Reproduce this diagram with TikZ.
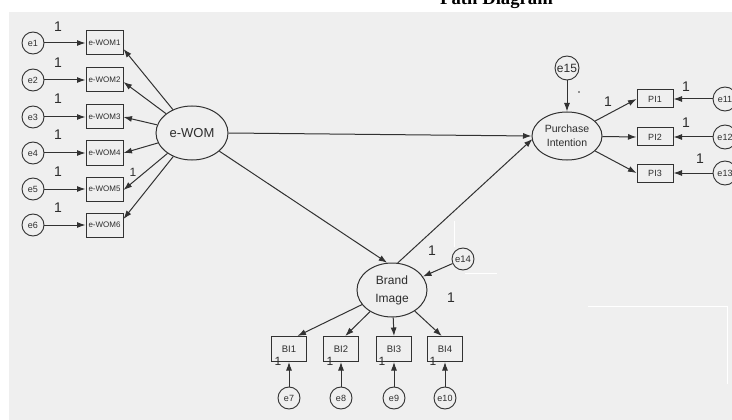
\documentclass[tikz,border=0pt]{standalone}
\usepackage{fontspec}
\setmainfont{Liberation Sans}
\newfontfamily\titlefont{Liberation Serif}
\usetikzlibrary{arrows.meta,shapes.geometric,calc}
\definecolor{bg}{RGB}{239,239,239}
\definecolor{ink}{RGB}{50,50,50}
\definecolor{txt}{RGB}{45,45,45}
\begin{document}
\begin{tikzpicture}[x=1pt,y=-1pt,
  lat/.style={ellipse, draw=ink, line width=1pt, fill=bg, inner sep=0pt, text=txt, align=center},
  err/.style={circle, draw=ink, line width=0.9pt, fill=bg, minimum size=22pt, inner sep=0pt, text=txt, font=\fontsize{9}{9}\selectfont},
  obs/.style={rectangle, draw=ink, line width=1pt, fill=bg, inner sep=0pt, text=txt},
  pth/.style={draw=ink, line width=1pt, -{Latex[length=8.5pt,width=6pt]}},
  one/.style={inner sep=0pt, text=txt, font=\fontsize{14}{14}\selectfont},
  wom/.style={obs, minimum width=37pt, minimum height=24pt, font=\fontsize{8}{8}\selectfont},
  pibox/.style={obs, minimum width=36pt, minimum height=18pt, font=\fontsize{9}{9}\selectfont},
  bibox/.style={obs, minimum width=35pt, minimum height=25pt, font=\fontsize{9.5}{9.5}\selectfont},
  whiteline/.style={white, line width=1pt}
]
\useasboundingbox (0,0) rectangle (732,420);
\clip (0,0) rectangle (732,420);
\fill[white] (0,0) rectangle (732,420);
\fill[bg] (9,12) rectangle (732,420);
\node[anchor=base west, inner sep=0pt, font=\titlefont\bfseries\fontsize{18.7}{20}\selectfont] (title) at (440,5) {Path Diagram};

% faint marks
\draw[whiteline] (454,221) -- (454,247);
\draw[whiteline] (465,273) -- (497,273);
\draw[whiteline] (588,306) -- (727,306) -- (727,384);
\fill[ink] (579,92) circle (0.8);

% left block
\foreach \i/\y in {1/43,2/80,3/117,4/153,5/189,6/225}{
  \node[err] (e\i) at (33,\y) {e\i};
  \node[wom] (b\i) at (104.5,\y) {e-WOM\i};
  \draw[pth] (e\i) -- (b\i);
}
\foreach \y in {27,63,99,135,172,208}{
  \node[one] at (58,\y) {1};
}
\node[lat, minimum width=72pt, minimum height=54pt, font=\fontsize{13}{13}\selectfont] (ewom) at (192,133) {e-WOM};
\draw[pth] (ewom) -- ($(b1.east)+(0,6)$);
\draw[pth] (ewom) -- ($(b2.east)+(0,2)$);
\draw[pth] (ewom) -- (b3.east);
\draw[pth] (ewom) -- (b4.east);
\draw[pth] (ewom) -- ($(b5.east)+(0,1)$);
\draw[pth] (ewom) -- ($(b6.east)+(0,-6)$);
\node[one, font=\fontsize{12}{12}\selectfont] at (133,172) {1};

% purchase intention
\node[lat, minimum width=70pt, minimum height=48pt, font=\fontsize{10.5}{14}\selectfont] (pi) at (567,136) {Purchase\\Intention};
\node[err, minimum size=24pt, font=\fontsize{12}{12}\selectfont] (e15) at (567,68) {e15};
\draw[pth] (e15) -- (pi);
\node[one] at (608,102) {1};
\foreach \i/\y/\e in {1/99/11,2/137/12,3/173/13}{
  \node[pibox] (pi\i) at (655,\y) {PI\i};
  \node[err, minimum size=24pt] (e\e) at (725,\y) {e\e};
  \draw[pth] (e\e) -- (pi\i);
  \draw[pth] (pi) -- (pi\i.west);
}
\node[one] at (686,87) {1};
\node[one] at (686,123) {1};
\node[one] at (700,159) {1};

% brand image
\node[lat, minimum width=70pt, minimum height=54pt, font=\fontsize{12}{18}\selectfont] (bi) at (392,290) {Brand\\Image};
\node[err, font=\fontsize{9.5}{9.5}\selectfont] (e14) at (463,259) {e14};
\draw[pth] (e14) -- (bi);
\node[one] at (432,251) {1};
\node[one] at (451,298) {1};

\draw[pth] (ewom.east) -- (pi.west);
\draw[pth] (ewom) -- (bi.100);
\draw[pth] (bi.78) -- ($(pi.west)+(1,3)$);

\foreach \i/\x/\e/\a/\lx in {1/289/7/57/278,2/341/8/72/330,3/394/9/90/382,4/445/10/104/433}{
  \node[bibox] (bi\i) at (\x,349) {BI\i};
  \node[err] (e\e) at (\x,398) {e\e};
  \draw[pth] (e\e) -- (bi\i);
  \draw[pth] (bi) -- (bi\i.\a);
  \node[one, font=\fontsize{12}{12}\selectfont] at (\lx,361) {1};
}
\end{tikzpicture}
\end{document}
